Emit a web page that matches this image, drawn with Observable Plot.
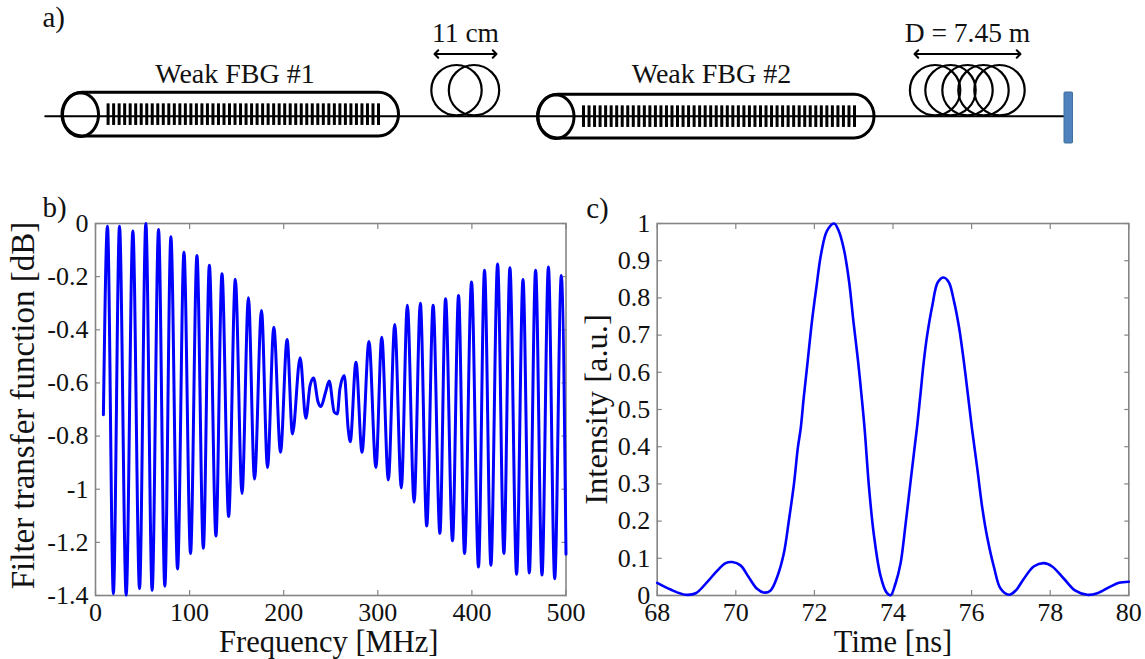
<!DOCTYPE html>
<html>
<head>
<meta charset="utf-8">
<script src="https://cdn.jsdelivr.net/npm/d3@7"></script>
<script src="https://cdn.jsdelivr.net/npm/@observablehq/plot@0.6"></script>
<style>
html,body{margin:0;padding:0;background:#fff;}
#page{position:relative;width:1145px;height:659px;overflow:hidden;}
#page svg{position:absolute;background:transparent;}
</style>
</head>
<body>
<div id="page"></div>
<script>
// ---------- panel b: filter transfer function (extrema)
const freqMHz = [8.4,12.7,19,25.5,32.6,39.7,46.8,53.5,60.2,67,73.7,80.1,87.2,94,101,107.8,114.6,121,128,134.4,141.5,148.6,155.7,162.5,169,176.4,182.8,189.5,196.6,203.6,209.3,217.5,223.5,228,231.7,236.5,239.5,244.5,248.4,253.7,257,259.7,264.4,268.5,270.7,276.8,283.2,290.6,298,304.2,311.2,318,325,331.4,338.6,345.2,352,358.8,366,372,379.4,385.8,392.2,399.6,407,413.4,420.2,427.3,434,440.4,447.5,454.3,461,467.7,474.5,481.3,488,495,500];
const transferDb = [-0.72,-0.01,-1.393,-0.01,-1.398,-0.028,-1.374,0,-1.38,-0.023,-1.365,-0.05,-1.30,-0.108,-1.242,-0.12,-1.222,-0.157,-1.176,-0.189,-1.103,-0.21,-1.016,-0.279,-0.962,-0.327,-0.918,-0.39,-0.861,-0.437,-0.792,-0.505,-0.733,-0.61,-0.581,-0.672,-0.689,-0.635,-0.593,-0.71,-0.717,-0.623,-0.572,-0.772,-0.821,-0.522,-0.861,-0.444,-0.918,-0.428,-0.965,-0.38,-0.995,-0.308,-1.049,-0.30,-1.138,-0.308,-1.166,-0.283,-1.194,-0.271,-1.242,-0.22,-1.293,-0.176,-1.286,-0.152,-1.242,-0.167,-1.32,-0.211,-1.315,-0.176,-1.323,-0.164,-1.337,-0.196,-1.245];
const freqTicks = [0,100,200,300,400,500];
const dbTicks = [0,-0.2,-0.4,-0.6,-0.8,-1,-1.2,-1.4];

// ---------- panel c: pulse intensity
const timeNs = [68,68.34,68.72,68.98,69.27,69.53,69.74,69.91,70.12,70.33,70.54,70.71,70.88,71.05,71.22,71.35,71.48,71.58,71.65,71.73,71.83,71.94,72.05,72.17,72.32,72.5,72.62,72.75,72.88,73,73.11,73.22,73.28,73.39,73.51,73.68,73.83,73.94,74.06,74.19,74.32,74.45,74.57,74.62,74.7,74.78,74.87,75,75.14,75.29,75.42,75.55,75.68,75.8,75.9,76.01,76.14,76.27,76.4,76.57,76.74,76.95,77.12,77.33,77.58,77.84,78.05,78.35,78.64,78.94,79.2,79.53,79.75,80];
const intensity = [0.034,0.016,0.002,0.006,0.036,0.067,0.087,0.09,0.081,0.049,0.018,0.008,0.013,0.049,0.112,0.201,0.30,0.398,0.448,0.533,0.631,0.739,0.828,0.918,0.98,1,0.98,0.931,0.846,0.73,0.631,0.515,0.445,0.29,0.166,0.054,0.009,0.001,0.031,0.085,0.192,0.309,0.416,0.46,0.542,0.626,0.70,0.779,0.842,0.855,0.842,0.792,0.721,0.631,0.545,0.448,0.345,0.237,0.155,0.076,0.018,0.002,0.013,0.045,0.078,0.087,0.078,0.045,0.013,0.002,0.006,0.024,0.034,0.037];
const timeTicks = [68,70,72,74,76,78,80];
const intensityTicks = [0,0.1,0.2,0.3,0.4,0.5,0.6,0.7,0.8,0.9,1];

// ---------- panel a: schematic parts
const fiberEnds = [44.7, 1063];
const fiberY = 115.7;
const tubeNames = ["Weak FBG #1","Weak FBG #2"];
const tubeLabelX = [234.5, 711];
const tubeLeft = [62, 537.5];
const tubeRight = [398.5, 874];
const tubeTop = [92.3, 94.3];
const tubeBottom = [136, 138];
const gratingStart = [107.6, 583];
const gratingEnd = [378, 854];
const gratingLineCount = 50;
const coilCentres = [456, 473.5, 934.6, 950, 967, 983, 999];
const coilCentreY = 89.7;
const coilRadius = 25.2;
const spanNames = ["11 cm","D = 7.45 m"];
const spanLeft = [434, 914];
const spanRight = [496, 1020];
const spanLabelX = [465, 967];
const mirror = {x1:1064, x2:1072.5, y1:92, y2:143};

const SERIF = "'Liberation Serif','Times New Roman',serif";
const page = document.getElementById("page");

function ellipsePts(cx, cy, rx, ry) {
  return d3.range(0, 49).map(i => {
    const a = i / 48 * 2 * Math.PI;
    return [cx + rx * Math.cos(a), cy + ry * Math.sin(a)];
  });
}

// ---- schematic
const tubeIdx = d3.range(tubeNames.length);
const gratingLines = tubeIdx.flatMap(k => d3.range(gratingLineCount).map(i => ({
  x: gratingStart[k] + (gratingEnd[k] - gratingStart[k]) * i / (gratingLineCount - 1),
  y1: (tubeTop[k] + tubeBottom[k]) / 2 - 10.8,
  y2: (tubeTop[k] + tubeBottom[k]) / 2 + 10.8
})));
const doubleArrows = d3.range(spanNames.length).flatMap(k => {
  const m = (spanLeft[k] + spanRight[k]) / 2;
  return [{x1:m, x2:spanLeft[k]}, {x1:m, x2:spanRight[k]}];
});
const schematic = Plot.plot({
  width:1145, height:170, margin:0,
  x:{domain:[0,1145], range:[0,1145], axis:null},
  y:{domain:[0,170], range:[0,170], axis:null},
  style:{background:"transparent", fontFamily:SERIF},
  marks:[
    Plot.line(fiberEnds, {x:d=>d, y:()=>fiberY, stroke:"#000", strokeWidth:2}),
    Plot.rect(tubeIdx, {x1:k=>tubeLeft[k], x2:k=>tubeRight[k], y1:k=>tubeTop[k], y2:k=>tubeBottom[k], rx:20, ry:22, stroke:"#000", strokeWidth:3, fill:"none"}),
    ...tubeIdx.map(k => Plot.line(
      ellipsePts(tubeLeft[k] + 18, (tubeTop[k] + tubeBottom[k]) / 2, 18, (tubeBottom[k] - tubeTop[k]) / 2),
      {x:"0", y:"1", stroke:"#000", strokeWidth:3})),
    Plot.ruleX(gratingLines, {x:"x", y1:"y1", y2:"y2", stroke:"#000", strokeWidth:3}),
    Plot.dot(coilCentres, {x:d=>d, y:()=>coilCentreY, r:coilRadius, stroke:"#000", strokeWidth:2.2, fill:"none"}),
    Plot.arrow(doubleArrows, {x1:"x1", x2:"x2", y1:()=>53.5, y2:()=>53.5, bend:0, headLength:4, headAngle:90, stroke:"#000", strokeWidth:2}),
    Plot.rect([mirror], {x1:"x1", x2:"x2", y1:"y1", y2:"y2", fill:"#4f81bd", stroke:"#41719c", strokeWidth:1, rx:1}),
    Plot.text(tubeNames, {x:(d,i)=>tubeLabelX[i], y:()=>74, text:d=>d, fontSize:28, fill:"#111"}),
    Plot.text(spanNames, {x:(d,i)=>spanLabelX[i], y:()=>33, text:d=>d, fontSize:27.5, fill:"#111"}),
    Plot.text(["a)"], {x:()=>42, y:()=>17, text:d=>d, textAnchor:"start", fontSize:29, fill:"#111"})
  ]
});
schematic.style.left = "0px"; schematic.style.top = "0px";
page.appendChild(schematic);

// ---- shared axis styling
const GREY = "#858585";
function axesFor(xTicks, yTicks, xFmt, yFmt) {
  return [
    Plot.frame({stroke:GREY, strokeWidth:1.6}),
    Plot.axisX(xTicks, {anchor:"bottom", tickSize:-5, tickPadding:12, stroke:GREY, strokeWidth:1.2, fill:"#111", tickFormat:xFmt, label:null, fontSize:26}),
    Plot.axisX(xTicks, {anchor:"top", tickSize:-5, stroke:GREY, strokeWidth:1.2, tickFormat:()=>"", label:null}),
    Plot.axisY(yTicks, {anchor:"left", tickSize:-5, tickPadding:12, stroke:GREY, strokeWidth:1.2, fill:"#111", tickFormat:yFmt, label:null, fontSize:26}),
    Plot.axisY(yTicks, {anchor:"right", tickSize:-5, stroke:GREY, strokeWidth:1.2, tickFormat:()=>"", label:null})
  ];
}

// ---- panel b
const chartB = Plot.plot({
  width:610, height:479, marginLeft:95, marginRight:44.5, marginTop:43, marginBottom:64,
  x:{domain:[0,500]}, y:{domain:[-1.4,0]},
  style:{background:"transparent", fontFamily:SERIF},
  marks:[
    ...axesFor(freqTicks, dbTicks, d=>String(d), d=>String(d)),
    Plot.line(freqMHz, {x:d=>d, y:(d,i)=>transferDb[i], stroke:"#0000ff", strokeWidth:3, curve:"monotone-x"}),
    Plot.text(["Frequency [MHz]"], {frameAnchor:"bottom", dx:-2, dy:47, text:d=>d, fontSize:30.5, fill:"#111", lineAnchor:"middle"}),
    Plot.text(["Filter transfer function [dB]"], {frameAnchor:"left", dx:-72, dy:-4, rotate:-90, text:d=>d, textAnchor:"middle", fontSize:33, fill:"#111"}),
    Plot.text(["b)"], {frameAnchor:"top-left", dx:-53, dy:-16, text:d=>d, fontSize:29, fill:"#111", lineAnchor:"middle", textAnchor:"start"})
  ]
});
chartB.style.left = "0px"; chartB.style.top = "180px";
page.appendChild(chartB);

// ---- panel c
const chartC = Plot.plot({
  width:570, height:479, marginLeft:81.7, marginRight:16.7, marginTop:43, marginBottom:64,
  x:{domain:[68,80]}, y:{domain:[0,1]},
  style:{background:"transparent", fontFamily:SERIF},
  marks:[
    ...axesFor(timeTicks, intensityTicks, d=>String(d), d=>String(d)),
    Plot.line(timeNs, {x:d=>d, y:(d,i)=>intensity[i], stroke:"#0000ff", strokeWidth:2.6, curve:"catmull-rom"}),
    Plot.text(["Time [ns]"], {frameAnchor:"bottom", dy:47, text:d=>d, fontSize:30.5, fill:"#111", lineAnchor:"middle"}),
    Plot.text(["Intensity [a.u.]"], {frameAnchor:"left", dx:-61, dy:0, rotate:-90, text:d=>d, textAnchor:"middle", fontSize:32.5, fill:"#111"}),
    Plot.text(["c)"], {frameAnchor:"top-left", dx:-71, dy:-15, text:d=>d, fontSize:29, fill:"#111", lineAnchor:"middle", textAnchor:"start"})
  ]
});
chartC.style.left = "575px"; chartC.style.top = "180px";
page.appendChild(chartC);
</script>
</body>
</html>
